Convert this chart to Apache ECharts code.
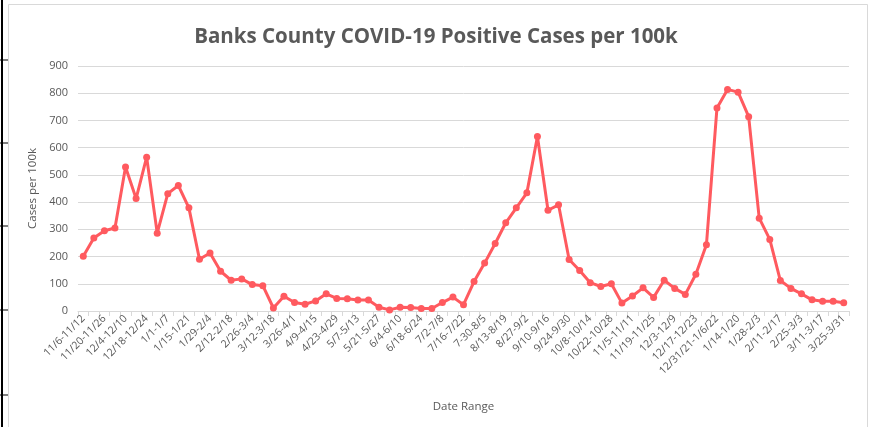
<!DOCTYPE html>
<html>
<head>
<meta charset="utf-8">
<script src="https://cdn.jsdelivr.net/npm/echarts@6/dist/echarts.min.js"></script>
<style>
html,body{margin:0;padding:0;background:#fff;}
#chart{width:872px;height:427px;}
</style>
</head>
<body>
<div id="chart"></div>
<script>
var categories = ["11/6-11/12","11/13-11/19","11/20-11/26","11/27-12/3","12/4-12/10","12/11-12/17","12/18-12/24","12/25-12/31","1/1-1/7","1/8-1/14","1/15-1/21","1/22-1/28","1/29-2/4","2/5-2/11","2/12-2/18","2/19-2/25","2/26-3/4","3/5-3/11","3/12-3/18","3/19-3/25","3/26-4/1","4/2-4/8","4/9-4/15","4/16-4/22","4/23-4/29","4/30-5/6","5/7-5/13","5/14-5/20","5/21-5/27","5/28-6/3","6/4-6/10","6/11-6/17","6/18-6/24","6/25-7/1","7/2-7/8","7/9-7/15","7/16-7/22","7/23-7/29","7-30-8/5","8/6-8/12","8/13-8/19","8/20-8/26","8/27-9/2","9/3-9/9","9/10-9/16","9/17-9/23","9/24-9/30","10/1-10/7","10/8-10/14","10/15-10/21","10/22-10/28","10/29-11/4","11/5-11/11","11/12-11/18","11/19-11/25","11/26-12/2","12/3-12/9","12/10-12/16","12/17-12/23","12/24-12/30","12/31/21-1/6/22","1/7-1/13","1/14-1/20","1/21-1/27","1/28-2/3","2/4-2/10","2/11-2/17","2/18-2/24","2/25-3/3","3/4-3/10","3/11-3/17","3/18-3/24","3/25-3/31"];
var casesPer100k = [201,268,295,305,529,413,565,286,431,461,379,190,213,146,113,118,97,93,11,54,31,25,37,63,46,45,40,40,14,4,14,13,9,9,31,51,23,108,176,248,324,379,434,641,370,390,189,149,104,90,100,29,55,85,50,113,83,61,135,243,746,814,804,714,341,263,112,83,63,41,36,36,30];
var yTicks = {min:0, max:900, interval:100};

var chart = echarts.init(document.getElementById('chart'));
var font = '"Open Sans", "Noto Sans", sans-serif';
chart.setOption({
  animation:false,
  backgroundColor:'#ffffff',
  graphic:[
    {type:'rect', shape:{x:8.5,y:4.5,width:859,height:430}, style:{fill:'none',stroke:'#d9d9d9',lineWidth:1}},
    {type:'line', shape:{x1:2,y1:0,x2:2,y2:427}, style:{stroke:'#000',lineWidth:2}},
    {type:'line', shape:{x1:0,y1:60,x2:8,y2:60}, style:{stroke:'#000',lineWidth:1}},
    {type:'line', shape:{x1:0,y1:143,x2:8,y2:143}, style:{stroke:'#000',lineWidth:1}},
    {type:'line', shape:{x1:0,y1:226,x2:8,y2:226}, style:{stroke:'#000',lineWidth:1}},
    {type:'line', shape:{x1:0,y1:310,x2:8,y2:310}, style:{stroke:'#000',lineWidth:1}},
    {type:'line', shape:{x1:0,y1:395,x2:8,y2:395}, style:{stroke:'#000',lineWidth:1}}
  ],
  title:{
    text:'Banks County COVID-19 Positive Cases per 100k',
    left:'center', top:22,
    textStyle:{fontFamily:font, fontSize:20.5, fontWeight:'bold', color:'#595959'}
  },
  grid:{left:78, right:23, top:66, bottom:116, containLabel:false},
  xAxis:{
    type:'category',
    data:categories,
    boundaryGap:true,
    name:'Date Range',
    nameLocation:'middle',
    nameGap:90,
    nameTextStyle:{fontFamily:font, fontSize:11.5, color:'#595959'},
    axisLine:{lineStyle:{color:'#d9d9d9', width:1}},
    axisTick:{show:true, interval:0, length:5, lineStyle:{color:'#d9d9d9'}},
    axisLabel:{interval:1, rotate:45, fontFamily:font, fontSize:10.5, color:'#595959', margin:6}
  },
  yAxis:{
    type:'value',
    min:yTicks.min, max:yTicks.max, interval:yTicks.interval,
    name:'Cases per 100k',
    nameLocation:'middle',
    nameGap:36,
    nameTextStyle:{fontFamily:font, fontSize:11.5, color:'#595959'},
    axisLine:{show:false},
    axisTick:{show:false},
    axisLabel:{fontFamily:font, fontSize:11, color:'#595959', margin:10},
    splitLine:{lineStyle:{color:'#d9d9d9', width:1}}
  },
  series:[{
    type:'line',
    data:casesPer100k,
    symbol:'circle',
    symbolSize:7,
    lineStyle:{color:'#ff5a5f', width:3},
    itemStyle:{color:'#ff5a5f'}
  }]
});
</script>
</body>
</html>
